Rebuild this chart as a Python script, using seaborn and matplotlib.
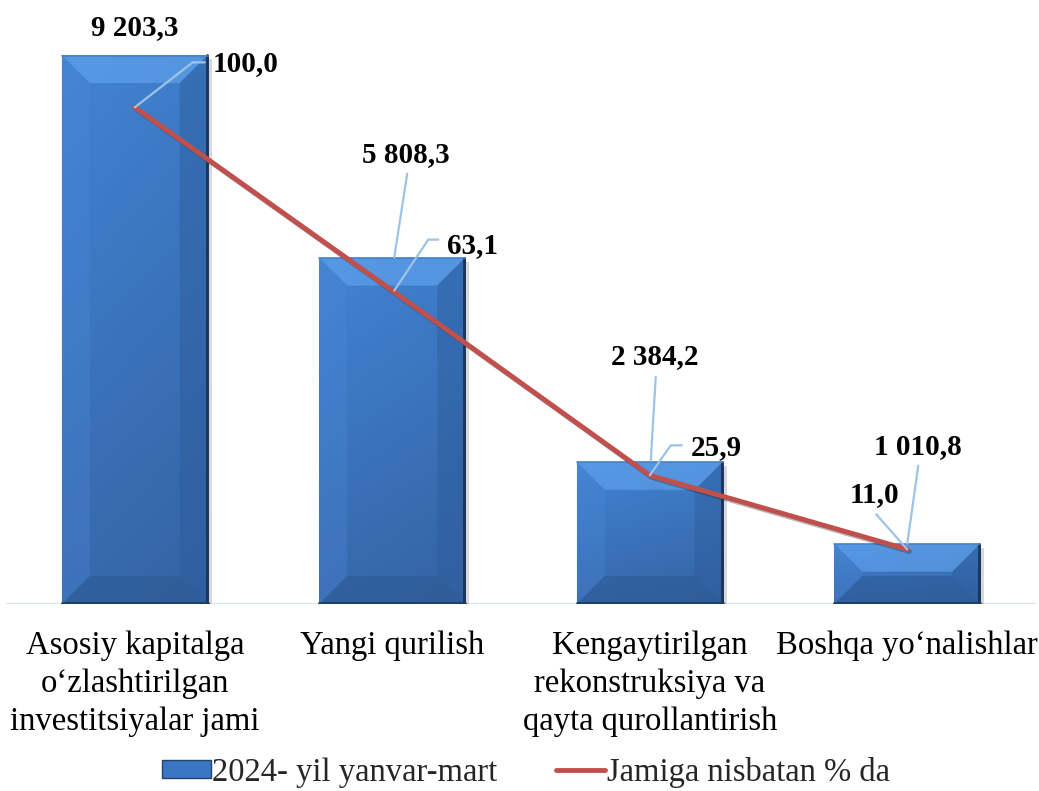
import numpy as np
import pandas as pd
import matplotlib
matplotlib.use("Agg")
import matplotlib.pyplot as plt
import matplotlib.patheffects as pe
from matplotlib.patches import Polygon, Patch
from matplotlib.lines import Line2D
from matplotlib.transforms import IdentityTransform
from matplotlib.colors import to_rgb
import seaborn as sns

# ---------------- data ----------------
categories = [
    "Asosiy kapitalga\no\u2018zlashtirilgan\ninvestitsiyalar jami",
    "Yangi qurilish",
    "Kengaytirilgan\nrekonstruksiya va\nqayta qurollantirish",
    "Boshqa yo\u2018nalishlar",
]
values = [9203.3, 5808.3, 2384.2, 1010.8]
value_labels = ["9 203,3", "5 808,3", "2 384,2", "1 010,8"]
pct = [100.0, 63.1, 25.9, 11.0]
pct_labels = ["100,0", "63,1", "25,9", "11,0"]
legend_labels = ["2024- yil yanvar-mart", "Jamiga nisbatan % da"]

BAR_COLOR = "#3B76C3"
LINE_COLOR = "#C0504D"
LEADER_COLOR = "#9DC3E6"

sns.set_theme(style="white")
plt.rcParams["font.family"] = ["Liberation Serif", "DejaVu Serif"]

W, H = 1039, 791
fig = plt.figure(figsize=(W / 100, H / 100), dpi=100)
ax = fig.add_axes([6 / W, 187 / H, 1030 / W, 594 / H])

df = pd.DataFrame({"cat": categories, "val": values, "pct": pct})
sns.barplot(data=df, x="cat", y="val", ax=ax, color=BAR_COLOR, width=0.567,
            saturation=1, edgecolor="none", zorder=2)

ax.set_ylim(0, 9958)
ax.set_xlim(-0.5, 3.5)

ax2 = ax.twinx()
sns.lineplot(data=df, x="cat", y="pct", ax=ax2, color=LINE_COLOR, lw=3.6,
             sort=False, zorder=3,
             path_effects=[pe.SimpleLineShadow(offset=(1.5, -1.5), alpha=0.3),
                           pe.Normal()])
ax2.set_ylim(0, 119.6)
ax.set_xlim(-0.5, 3.5)

for a in (ax, ax2):
    for s in a.spines.values():
        s.set_visible(False)
    a.set_yticks([])
    a.set_ylabel("")
    a.set_xlabel("")
ax.axhline(0, color="#D5E3F3", lw=2.2, zorder=1)

ax.tick_params(axis="x", length=0, pad=19, labelsize=23.5, colors="black")
for lab in ax.get_xticklabels():
    lab.set_multialignment("center")
    lab.set_linespacing(1.32)

# ---------------- bevel effect on bars ----------------
bars = [p for p in ax.patches if p.get_height() > 0]
top_c = np.array(to_rgb("#4080CE"))
bot_c = np.array(to_rgb("#3566A8"))
for p in bars:
    p.set_path_effects([pe.SimplePatchShadow(offset=(3, -3), shadow_rgbFace="gray", alpha=0.3),
                        pe.Normal()])
    x0, w, h = p.get_x(), p.get_width(), p.get_height()
    t = np.linspace(0, 1, 60)[:, None, None]
    s = np.linspace(0, 1, 40)[None, :, None]
    grad = (top_c * (1 - t) + bot_c * t) * (1 + 0.06 * (0.5 - s))
    grad = np.clip(grad, 0, 1)
    im = ax.imshow(grad, extent=(x0, x0 + w, 0, h), aspect="auto", origin="upper",
                   zorder=2.1, interpolation="bilinear")
    im.set_clip_path(p)
    (X0, Y0) = ax.transData.transform((x0, 0))
    (X1, Y1) = ax.transData.transform((x0 + w, h))
    b = min(28, (Y1 - Y0) / 2)
    polys = [
        ([(X0, Y1), (X1, Y1), (X1 - b, Y1 - b), (X0 + b, Y1 - b)], "#64A6F0", 0.6),
        ([(X0, Y0), (X0 + b, Y0 + b), (X0 + b, Y1 - b), (X0, Y1)], "#4C8AD6", 0.3),
        ([(X1, Y0), (X1, Y1), (X1 - b, Y1 - b), (X1 - b, Y0 + b)], "#2A5A98", 0.4),
        ([(X0, Y0), (X1, Y0), (X1 - b, Y0 + b), (X0 + b, Y0 + b)], "#2B5891", 0.5),
    ]
    for pts, c, a in polys:
        ax.add_patch(Polygon(pts, closed=True, facecolor=c, edgecolor="none", alpha=a,
                             transform=IdentityTransform(), zorder=2.2))
    ax.add_artist(Line2D([X1 - 1, X1 - 1], [Y0, Y1], color="#1C3456", lw=2.0,
                         transform=IdentityTransform(), zorder=2.3))
    ax.add_artist(Line2D([X0, X1], [Y0 + 1, Y0 + 1], color="#1F3C66", lw=2.0,
                         transform=IdentityTransform(), zorder=2.3))
    ax.add_artist(Line2D([X0, X1], [Y1 - 0.5, Y1 - 0.5], color="#4A80C4", lw=1.2,
                         transform=IdentityTransform(), zorder=2.3))

# ---------------- labels with leader lines ----------------
lbl_font = dict(fontsize=21, fontweight="bold", color="black")

def leader(axis, anchor, pts):
    X, Y = axis.transData.transform(anchor)
    xs = [X + dx for dx, dy in pts]
    ys = [Y + dy for dx, dy in pts]
    fig.add_artist(Line2D(xs, ys, color=LEADER_COLOR, lw=1.6,
                          transform=IdentityTransform(), zorder=5))

bar_text_off = [(0, 27), (14, 103), (5, 105), (11, 97)]
bar_leaders = [None, [(2, 0), (15, 84)], [(1, 1), (6, 85)], [(0, 0), (11, 78)]]
for i, (v, lab) in enumerate(zip(values, value_labels)):
    ax.annotate(lab, (i, v), xytext=bar_text_off[i], textcoords="offset pixels",
                ha="center", va="center", zorder=6, **lbl_font)
    if bar_leaders[i]:
        leader(ax, (i, v), bar_leaders[i])

pct_text_off = [(78, 44), (55, 45), (41, 28), (-58, 55)]
pct_leaders = [[(0, 0), (58, 45), (70, 45)], [(2, 0), (36, 51), (46, 51)],
               [(0, 0), (21, 30), (32, 30)], [(0, 0), (-31, 35)]]
for i, (v, lab) in enumerate(zip(pct, pct_labels)):
    ax2.annotate(lab, (i, v), xytext=pct_text_off[i], textcoords="offset pixels",
                 ha="left", va="center", zorder=6, **lbl_font)
    leader(ax2, (i, v), pct_leaders[i])

# ---------------- legend ----------------
handles = [Patch(facecolor=BAR_COLOR, edgecolor="#24446E", lw=1.0),
           Line2D([0], [0], color=LINE_COLOR, lw=3.5)]
fig.legend(handles, legend_labels, loc="center", bbox_to_anchor=(0.506, 0.024),
           ncol=2, frameon=False, fontsize=23.5, handlelength=1.5, handleheight=0.5,
           handletextpad=0.05, columnspacing=1.8, borderpad=0.2)

fig.savefig("out.png", dpi=100)
